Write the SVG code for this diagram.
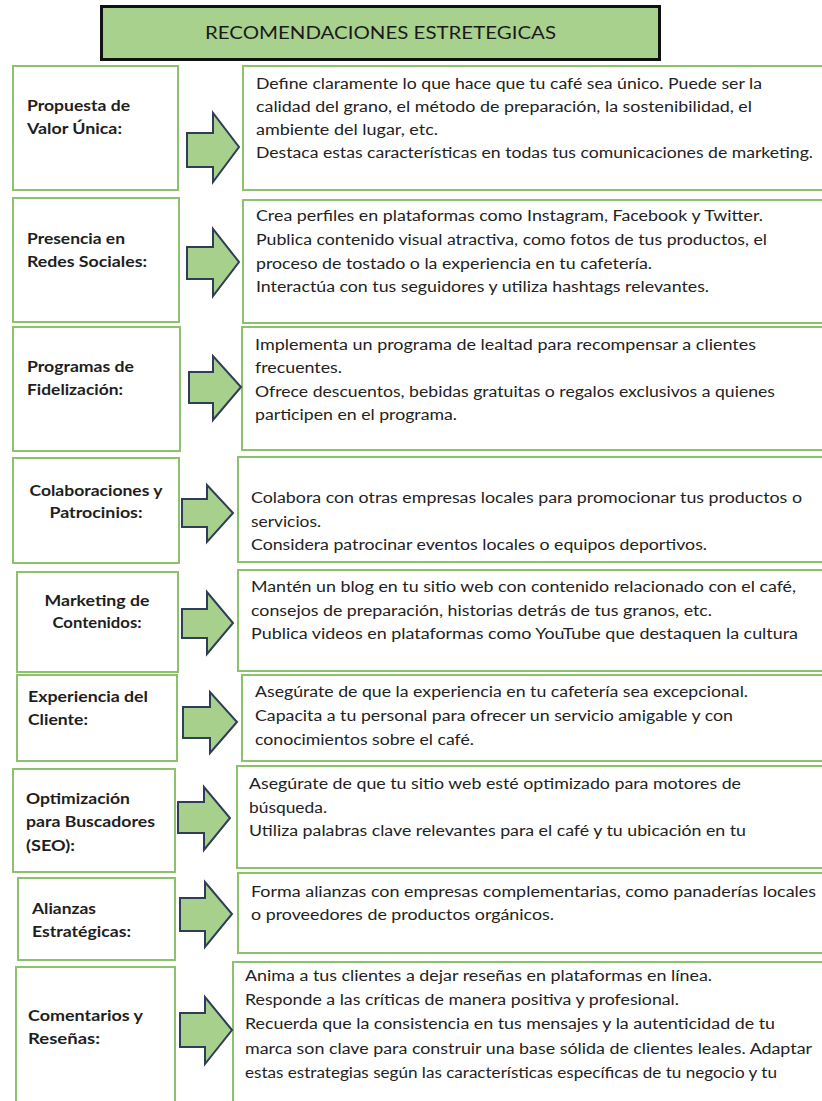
<svg xmlns="http://www.w3.org/2000/svg" width="822" height="1101" viewBox="0 0 822 1101">
  <style>
    .title-box { fill: #a9d18e; stroke: #111; stroke-width: 3; }
    .title { font-family: Lato, "Open Sans", sans-serif; font-size: 18px; fill: #1a1a1a; }
    .box { fill: #ffffff; stroke: #8cc26c; stroke-width: 2; }
    .label { font-family: Lato, "Open Sans", sans-serif; font-size: 15.5px; font-weight: bold; fill: #1e1e1e; }
    .body { font-family: Lato, "Open Sans", sans-serif; font-size: 15.5px; fill: #222; }
    .c { text-anchor: middle; }
    .arrow { fill: #a6d08b; stroke: #2e3d58; stroke-width: 2; stroke-linejoin: miter; }
  </style>
  <rect width="822" height="1101" fill="#ffffff"/>

  <!-- heading -->
  <g id="title">
    <rect class="title-box" x="101.5" y="6.5" width="558" height="53"/>
    <text class="title" x="205" y="39" textLength="351" lengthAdjust="spacingAndGlyphs">RECOMENDACIONES ESTRETEGICAS</text>
  </g>

  <!-- row 1 -->
  <g id="propuesta-valor">
    <rect class="box" x="13" y="66" width="165" height="124"/>
    <text class="label" x="27" y="111" textLength="103" lengthAdjust="spacingAndGlyphs">Propuesta de</text>
    <text class="label" x="27" y="134" textLength="95" lengthAdjust="spacingAndGlyphs">Valor Única:</text>
  </g>
  <g id="propuesta-valor-detalle">
    <rect class="box" x="243" y="66" width="590" height="124"/>
    <text class="body" x="256" y="89" textLength="506" lengthAdjust="spacingAndGlyphs">Define claramente lo que hace que tu café sea único. Puede ser la</text>
    <text class="body" x="256" y="112" textLength="496" lengthAdjust="spacingAndGlyphs">calidad del grano, el método de preparación, la sostenibilidad, el</text>
    <text class="body" x="256" y="135" textLength="182" lengthAdjust="spacingAndGlyphs">ambiente del lugar, etc.</text>
    <text class="body" x="256" y="158" textLength="557" lengthAdjust="spacingAndGlyphs">Destaca estas características en todas tus comunicaciones de marketing.</text>
  </g>

  <!-- row 2 -->
  <g id="redes-sociales">
    <rect class="box" x="13" y="198" width="166" height="124"/>
    <text class="label" x="27" y="244" textLength="98" lengthAdjust="spacingAndGlyphs">Presencia en</text>
    <text class="label" x="27" y="267" textLength="120" lengthAdjust="spacingAndGlyphs">Redes Sociales:</text>
  </g>
  <g id="redes-sociales-detalle">
    <rect class="box" x="243" y="200" width="590" height="123"/>
    <text class="body" x="256" y="221" textLength="507" lengthAdjust="spacingAndGlyphs">Crea perfiles en plataformas como Instagram, Facebook y Twitter.</text>
    <text class="body" x="256" y="245" textLength="511" lengthAdjust="spacingAndGlyphs">Publica contenido visual atractiva, como fotos de tus productos, el</text>
    <text class="body" x="256" y="269" textLength="396" lengthAdjust="spacingAndGlyphs">proceso de tostado o la experiencia en tu cafetería.</text>
    <text class="body" x="256" y="292" textLength="453" lengthAdjust="spacingAndGlyphs">Interactúa con tus seguidores y utiliza hashtags relevantes.</text>
  </g>

  <!-- row 3 -->
  <g id="fidelizacion">
    <rect class="box" x="13" y="327" width="167" height="124"/>
    <text class="label" x="27" y="372" textLength="107" lengthAdjust="spacingAndGlyphs">Programas de</text>
    <text class="label" x="27" y="395" textLength="96" lengthAdjust="spacingAndGlyphs">Fidelización:</text>
  </g>
  <g id="fidelizacion-detalle">
    <rect class="box" x="242" y="327" width="590" height="123"/>
    <text class="body" x="255" y="350" textLength="501" lengthAdjust="spacingAndGlyphs">Implementa un programa de lealtad para recompensar a clientes</text>
    <text class="body" x="255" y="373" textLength="87" lengthAdjust="spacingAndGlyphs">frecuentes.</text>
    <text class="body" x="255" y="397" textLength="520" lengthAdjust="spacingAndGlyphs">Ofrece descuentos, bebidas gratuitas o regalos exclusivos a quienes</text>
    <text class="body" x="255" y="420" textLength="202" lengthAdjust="spacingAndGlyphs">participen en el programa.</text>
  </g>

  <!-- row 4 -->
  <g id="colaboraciones">
    <rect class="box" x="13" y="458" width="166" height="105"/>
    <text class="label c" x="96" y="496" textLength="133" lengthAdjust="spacingAndGlyphs">Colaboraciones y</text>
    <text class="label c" x="96" y="518" textLength="93" lengthAdjust="spacingAndGlyphs">Patrocinios:</text>
  </g>
  <g id="colaboraciones-detalle">
    <rect class="box" x="238" y="457" width="594" height="105"/>
    <text class="body" x="251" y="503" textLength="551" lengthAdjust="spacingAndGlyphs">Colabora con otras empresas locales para promocionar tus productos o</text>
    <text class="body" x="251" y="527" textLength="70" lengthAdjust="spacingAndGlyphs">servicios.</text>
    <text class="body" x="251" y="550" textLength="456" lengthAdjust="spacingAndGlyphs">Considera patrocinar eventos locales o equipos deportivos.</text>
  </g>

  <!-- row 5 -->
  <g id="contenidos">
    <rect class="box" x="17" y="572" width="161" height="100"/>
    <text class="label c" x="97" y="606" textLength="105" lengthAdjust="spacingAndGlyphs">Marketing de</text>
    <text class="label c" x="97" y="628" textLength="89" lengthAdjust="spacingAndGlyphs">Contenidos:</text>
  </g>
  <g id="contenidos-detalle">
    <rect class="box" x="238" y="570" width="594" height="101"/>
    <text class="body" x="251" y="592" textLength="545" lengthAdjust="spacingAndGlyphs">Mantén un blog en tu sitio web con contenido relacionado con el café,</text>
    <text class="body" x="251" y="616" textLength="461" lengthAdjust="spacingAndGlyphs">consejos de preparación, historias detrás de tus granos, etc.</text>
    <text class="body" x="251" y="639" textLength="547" lengthAdjust="spacingAndGlyphs">Publica videos en plataformas como YouTube que destaquen la cultura</text>
  </g>

  <!-- row 6 -->
  <g id="experiencia-cliente">
    <rect class="box" x="17" y="675" width="160" height="86"/>
    <text class="label" x="28" y="702" textLength="120" lengthAdjust="spacingAndGlyphs">Experiencia del</text>
    <text class="label" x="28" y="725" textLength="60" lengthAdjust="spacingAndGlyphs">Cliente:</text>
  </g>
  <g id="experiencia-cliente-detalle">
    <rect class="box" x="242" y="675" width="590" height="86"/>
    <text class="body" x="255" y="697" textLength="493" lengthAdjust="spacingAndGlyphs">Asegúrate de que la experiencia en tu cafetería sea excepcional.</text>
    <text class="body" x="255" y="721" textLength="478" lengthAdjust="spacingAndGlyphs">Capacita a tu personal para ofrecer un servicio amigable y con</text>
    <text class="body" x="255" y="745" textLength="219" lengthAdjust="spacingAndGlyphs">conocimientos sobre el café.</text>
  </g>

  <!-- row 7 -->
  <g id="seo">
    <rect class="box" x="13" y="769" width="162" height="103"/>
    <text class="label" x="26" y="804" textLength="104" lengthAdjust="spacingAndGlyphs">Optimización</text>
    <text class="label" x="26" y="827" textLength="129" lengthAdjust="spacingAndGlyphs">para Buscadores</text>
    <text class="label" x="26" y="851" textLength="49" lengthAdjust="spacingAndGlyphs">(SEO):</text>
  </g>
  <g id="seo-detalle">
    <rect class="box" x="237" y="766" width="595" height="102"/>
    <text class="body" x="249" y="789" textLength="492" lengthAdjust="spacingAndGlyphs">Asegúrate de que tu sitio web esté optimizado para motores de</text>
    <text class="body" x="249" y="813" textLength="78" lengthAdjust="spacingAndGlyphs">búsqueda.</text>
    <text class="body" x="249" y="836" textLength="497" lengthAdjust="spacingAndGlyphs">Utiliza palabras clave relevantes para el café y tu ubicación en tu</text>
  </g>

  <!-- row 8 -->
  <g id="alianzas">
    <rect class="box" x="18" y="878" width="157" height="82"/>
    <text class="label" x="32" y="914" textLength="64" lengthAdjust="spacingAndGlyphs">Alianzas</text>
    <text class="label" x="32" y="937" textLength="99" lengthAdjust="spacingAndGlyphs">Estratégicas:</text>
  </g>
  <g id="alianzas-detalle">
    <rect class="box" x="238" y="873" width="594" height="80"/>
    <text class="body" x="251" y="897" textLength="565" lengthAdjust="spacingAndGlyphs">Forma alianzas con empresas complementarias, como panaderías locales</text>
    <text class="body" x="251" y="920" textLength="303" lengthAdjust="spacingAndGlyphs">o proveedores de productos orgánicos.</text>
  </g>

  <!-- row 9 -->
  <g id="resenas">
    <rect class="box" x="16" y="967" width="159" height="150"/>
    <text class="label" x="28" y="1021" textLength="115" lengthAdjust="spacingAndGlyphs">Comentarios y</text>
    <text class="label" x="28" y="1044" textLength="72" lengthAdjust="spacingAndGlyphs">Reseñas:</text>
  </g>
  <g id="resenas-detalle">
    <rect class="box" x="233" y="962" width="599" height="155"/>
    <text class="body" x="245" y="981" textLength="467" lengthAdjust="spacingAndGlyphs">Anima a tus clientes a dejar reseñas en plataformas en línea.</text>
    <text class="body" x="245" y="1005" textLength="434" lengthAdjust="spacingAndGlyphs">Responde a las críticas de manera positiva y profesional.</text>
    <text class="body" x="245" y="1029" textLength="530" lengthAdjust="spacingAndGlyphs">Recuerda que la consistencia en tus mensajes y la autenticidad de tu</text>
    <text class="body" x="245" y="1054" textLength="567" lengthAdjust="spacingAndGlyphs">marca son clave para construir una base sólida de clientes leales. Adaptar</text>
    <text class="body" x="245" y="1078" textLength="532" lengthAdjust="spacingAndGlyphs">estas estrategias según las características específicas de tu negocio y tu</text>
  </g>

  <!-- block arrows linking each label to its detail -->
  <g id="connectors">
    <polygon class="arrow" points="187,133 213,133 213,113 239,147 213,182 213,167 187,167"/>
    <polygon class="arrow" points="187,247 213,247 213,229 239,262 213,296 213,279 187,279"/>
    <polygon class="arrow" points="189,372 213,372 213,356 241,387 213,420 213,403 189,403"/>
    <polygon class="arrow" points="182,499 207,499 207,485 233,513 207,542 207,527 182,527"/>
    <polygon class="arrow" points="182,609 207,609 207,592 233,623 207,654 207,638 182,638"/>
    <polygon class="arrow" points="183,707 210,707 210,692 237,722 210,753 210,738 183,738"/>
    <polygon class="arrow" points="178,802 204,802 204,787 230,818 204,850 204,833 178,833"/>
    <polygon class="arrow" points="180,898 205,898 205,882 232,914 205,947 205,931 180,931"/>
    <polygon class="arrow" points="180,1013 205,1013 205,997 232,1030 205,1064 205,1047 180,1047"/>
  </g>
</svg>
